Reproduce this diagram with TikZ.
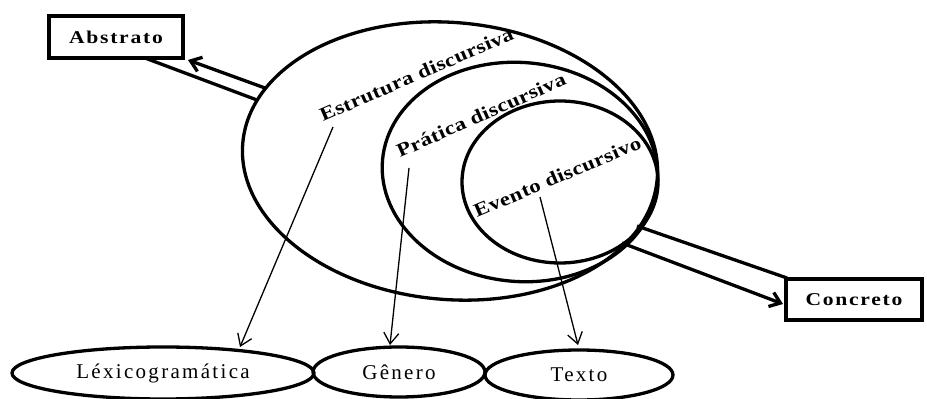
\documentclass[tikz,border=0pt]{standalone}
\usepackage{fontspec}
\usepackage{graphicx}
\setmainfont{Liberation Serif}
\usetikzlibrary{shapes.geometric,arrows.meta}
\newcommand{\wide}[1]{\scalebox{1.2}[1]{#1}}
\begin{document}
\begin{tikzpicture}[x=1pt,y=1pt,
  heavy/.style={line width=3.3pt},
  ring/.style={ellipse, draw, heavy, inner sep=0pt, outer sep=0pt},
  tag/.style={rectangle, draw, heavy, inner sep=0pt, outer sep=0pt,
    font=\bfseries\fontsize{18}{18}\selectfont\addfontfeature{LetterSpace=8}},
  leaf/.style={ellipse, draw, heavy, inner sep=0pt, outer sep=0pt,
    font=\fontsize{21}{21}\selectfont\addfontfeature{LetterSpace=11}},
  ringlabel/.style={anchor=base west, inner sep=0pt,
    font=\bfseries\fontsize{19}{19}\selectfont\addfontfeature{LetterSpace=2}},
  pointer/.style={line width=1.3pt, -{Straight Barb[length=11pt,width=15pt]}},
  rail/.style={heavy},
  railhead/.style={heavy, -{Straight Barb[length=10pt,width=15pt]}}
]
\useasboundingbox (0,0) rectangle (927,399);

% nested discourse levels
\node[ring, rotate=-5, minimum width=416pt, minimum height=277pt] (estrutura) at (450,238) {};
\node[ring, rotate=-5, minimum width=276pt, minimum height=219pt] (pratica) at (520,227) {};
\node[ring, minimum width=196pt, minimum height=162pt] (evento) at (560,217) {};

% level labels, set along the rings
\node[ringlabel, rotate=23.4] (lblE) at (323,277) {\wide{Estrutura discursiva}};
\node[ringlabel, rotate=23.9] (lblP) at (400,241) {\wide{Prática discursiva}};
\node[ringlabel, rotate=23.0] (lblV) at (477,181) {\wide{Evento discursivo}};

% poles of the abstraction axis
\node[tag, minimum width=134pt, minimum height=42pt] (abstrato) at (116,362) {\wide{Abstrato}};
\node[tag, minimum width=136pt, minimum height=41pt] (concreto) at (854,99.5) {\wide{Concreto}};

% realisations
\node[leaf, minimum width=302pt, minimum height=52pt] (lexico) at (163,26) {Léxicogramática};
\node[leaf, minimum width=172pt, minimum height=50pt] (genero) at (399,27) {Gênero};
\node[leaf, minimum width=188pt, minimum height=50pt] (texto) at (579,24) {Texto};

% axis rails
\coordinate (absUp) at (265,311);
\coordinate (absLo) at (257,299);
\coordinate (absTip) at (188,339);
\coordinate (absEnd) at (145,341);
\draw[railhead] (absUp) -- (absTip);
\draw[rail] (absLo) -- (absEnd);

\coordinate (conUp) at (637,173);
\coordinate (conLo) at (622,156);
\coordinate (conEnd) at (787,121);
\coordinate (conTip) at (783,95);
\draw[rail] (conUp) -- (conEnd);
\draw[railhead] (conLo) -- (conTip);

% pointers from each level to its realisation
\coordinate (fromE) at (333,272);
\coordinate (toLex) at (240,52);
\coordinate (fromP) at (409,231);
\coordinate (toGen) at (390,54);
\coordinate (fromV) at (540,202);
\coordinate (toTex) at (578,54);
\draw[pointer] (fromE) -- (toLex);
\draw[pointer] (fromP) -- (toGen);
\draw[pointer] (fromV) -- (toTex);
\end{tikzpicture}
\end{document}
